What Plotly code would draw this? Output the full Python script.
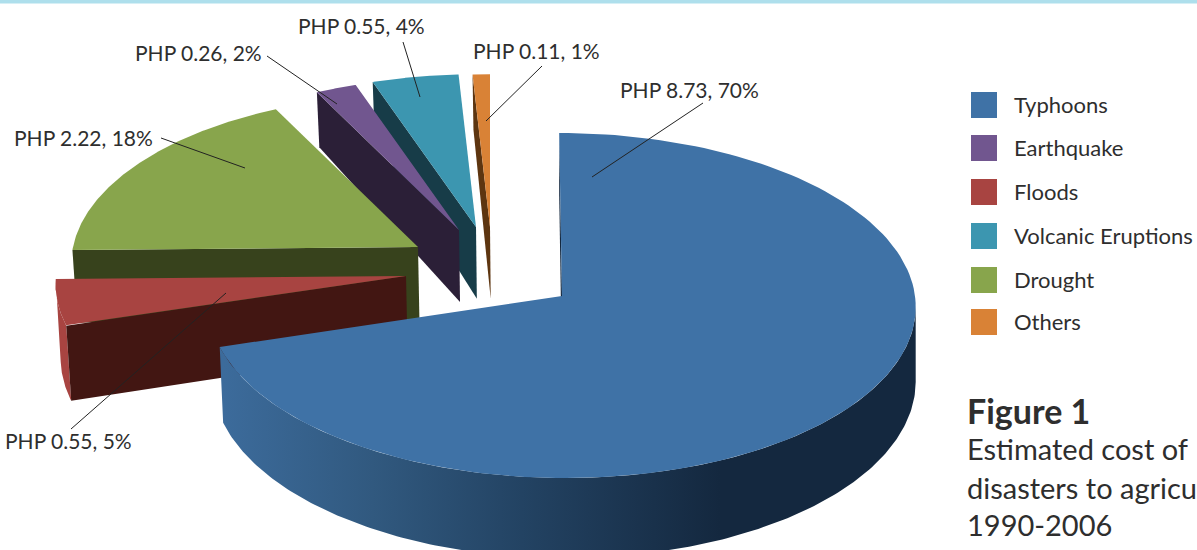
import numpy as np
import plotly.graph_objects as go

# ---- data (clockwise drawing order from 12 o'clock) ----
categories = ["Typhoons", "Floods", "Drought", "Earthquake", "Volcanic Eruptions", "Others"]
costs_php = [8.73, 0.55, 2.22, 0.26, 0.55, 0.11]
percent_labels = [70, 5, 18, 2, 4, 1]

legend_order = ["Typhoons", "Earthquake", "Floods", "Volcanic Eruptions", "Drought", "Others"]

top_colors = ["#3f72a6", "#a84441", "#88a54c", "#71568f", "#3c96b0", "#d98236"]
wall_colors = ["#14283f", "#421612", "#37421c", "#2b1f37", "#173c48", "#5d3510"]

# ---- drawing geometry of the exploded slices (pixels of the page) ----
apex_x = [562, 406, 418, 459, 476, 490]
apex_y = [296, 276, 247, 230, 227, 227]
radius_x = [353, 350, 345, 345, 345, 345]
radius_y = [172, 168, 168, 168, 168, 168]
persp = [0.055, 0.05, 0.10, 0.10, 0.10, 0.10]
shear = [-3, 0, 0, 0, 0, 0]

label_xy = [(618, 89), (3, 440), (12, 137), (133, 52), (296, 25), (471, 50)]
leader_from = [(703, 103), (71, 429), (161, 138), (267, 56), (403, 42), (542, 66)]
leader_to = [(592, 177), (226, 293), (245, 168), (337, 104), (420, 97), (486, 121)]

legend_y = [105, 148, 192, 236, 280, 322]
FONT = "Lato, Carlito, Calibri, sans-serif"
TEXT = "#2e2e2e"

total = sum(costs_php)
edges = np.concatenate([[0], np.cumsum(costs_php)]) / total * 360


def project(i, deg):
    t = np.radians(deg)
    u, v = np.sin(t), np.cos(t)
    s = 1 / (1 + persp[i] * v)
    return apex_x[i] + (radius_x[i] * u + shear[i] * v) * s, apex_y[i] - radius_y[i] * v * s


def drop(x, y):
    d = np.interp(y, [93, 230, 478], [55, 72, 80])
    return x + np.maximum(561 - x, 0) * 0.01, y + d


fig = go.Figure()


def poly(xs, ys, color, **kw):
    fig.add_trace(go.Scatter(x=list(xs), y=list(ys), mode="lines", fill="toself", fillcolor=color,
                             line=dict(width=0, color=color), hoverinfo="skip", showlegend=False, **kw))


# back to front: Others, Volcanic, Earthquake, Drought, Floods, Typhoons
for i in [5, 4, 3, 2, 1, 0]:
    a, b = edges[i], edges[i + 1]
    arc = np.linspace(a, b, 160)
    ax, ay = float(apex_x[i]), float(apex_y[i])
    ox, oy = project(i, a)
    ox, oy = float(ox), float(oy)
    (dax, day), (dox, doy) = drop(ax, ay), drop(ox, oy)
    if i == 0:
        rim = np.linspace(93, b, 200)
        rx, ry = project(i, rim)
        bx, by = drop(rx, ry)
        poly(np.r_[rx, bx[::-1]], np.r_[ry, by[::-1]], "#14283f",
             fillgradient=dict(type="horizontal", start=224, stop=720,
                               colorscale=[[0, "#3c6b9b"], [0.3, "#31597f"], [0.6, "#234363"], [1, "#14283f"]]))
    elif i == 1:
        rx, ry = project(i, arc)
        bx, by = drop(rx, ry)
        poly(np.r_[rx, bx[::-1]], np.r_[ry, by[::-1]], top_colors[i])
    poly([ax, ox, dox, dax], [ay, oy, doy, day], wall_colors[i])
    tx, ty = project(i, arc)
    poly(np.r_[ax, tx], np.r_[ay, ty], top_colors[i])

# leader lines
for (x0, y0), (x1, y1) in zip(leader_from, leader_to):
    fig.add_trace(go.Scatter(x=[x0, x1], y=[y0, y1], mode="lines", line=dict(color="#222222", width=1),
                             hoverinfo="skip", showlegend=False))

# slice labels
for i, (lx, ly) in enumerate(label_xy):
    fig.add_annotation(x=lx, y=ly, xref="x", yref="y", xanchor="left", yanchor="middle", showarrow=False,
                       text=f"PHP {costs_php[i]:.2f}, {percent_labels[i]}%", font=dict(family=FONT, size=21, color=TEXT))

# legend
color_of = dict(zip(categories, top_colors))
for name, ly in zip(legend_order, legend_y):
    fig.add_trace(go.Scatter(x=[984], y=[ly], mode="markers",
                             marker=dict(symbol="square", size=26, color=color_of[name], line=dict(width=0)),
                             name=name, hoverinfo="name", showlegend=False))
    fig.add_annotation(x=1012, y=ly - 1, xref="x", yref="y", xanchor="left", yanchor="middle", showarrow=False,
                       text=name, font=dict(family=FONT, size=22, color=TEXT))

# caption (the lines run off the page in the reference; only the visible part is kept)
caption = [("<b>Figure 1</b>", 410, 34), ("Estimated cost of", 448, 29),
           ("disasters to agricu", 487, 29), ("1990-2006", 524, 29)]
for txt, cy, size in caption:
    fig.add_annotation(x=965, y=cy, xref="x", yref="y", xanchor="left", yanchor="middle", showarrow=False,
                       text=txt, font=dict(family=FONT, size=size, color=TEXT))

fig.add_shape(type="rect", xref="x", yref="y", x0=0, x1=1197, y0=0, y1=3.5, fillcolor="#aedfec", line_width=0, layer="above")

fig.update_layout(width=1197, height=550, margin=dict(l=0, r=0, t=0, b=0), autosize=False,
                  paper_bgcolor="white", plot_bgcolor="white", showlegend=False,
                  xaxis=dict(range=[0, 1197], visible=False, fixedrange=True),
                  yaxis=dict(range=[550, 0], visible=False, fixedrange=True))

fig.write_html("out.html", post_script="document.body.style.margin='0';document.body.style.overflow='hidden';",
               config={"displayModeBar": False})
